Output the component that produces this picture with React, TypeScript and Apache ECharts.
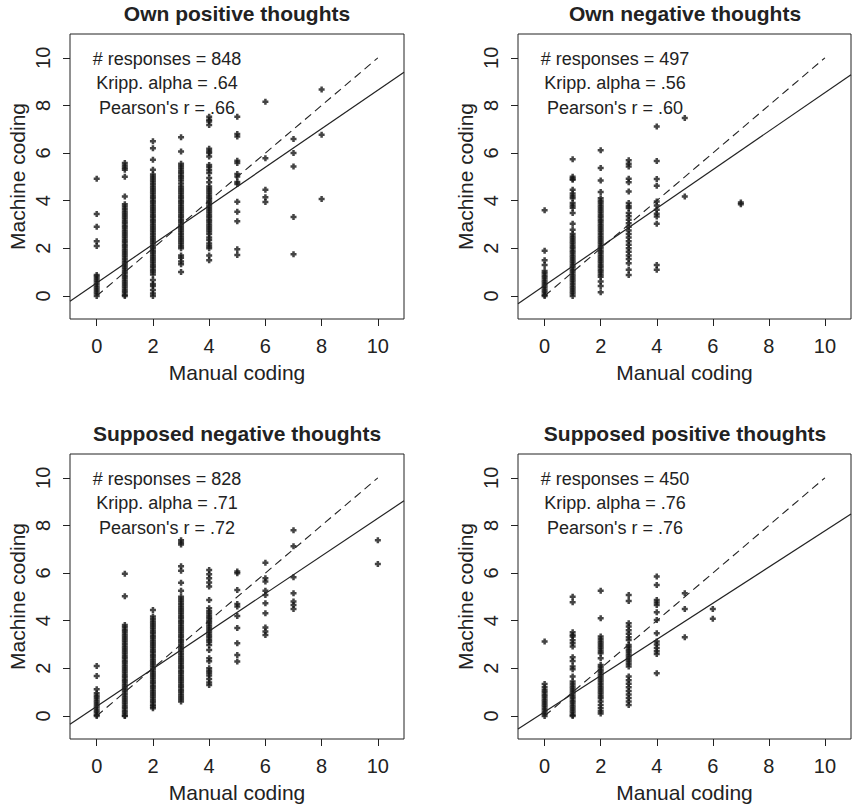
import React, { useEffect, useRef } from 'react';
import * as echarts from 'echarts';

// ---------- data ----------
const panelTitles = [
  'Own positive thoughts',
  'Own negative thoughts',
  'Supposed negative thoughts',
  'Supposed positive thoughts',
];
const responseCounts = [848, 497, 828, 450];
const krippAlphas = ['.64', '.56', '.71', '.76'];
const pearsonRs = ['.66', '.60', '.72', '.76'];
const regIntercepts = [0.545, 0.44, 0.4, 0.17];
const regSlopes = [0.81, 0.81, 0.79, 0.76];
const tickValues = [0, 2, 4, 6, 8, 10];
const identityLine = [
  [0, 0],
  [10, 10],
];
const xLabel = 'Manual coding';
const yLabel = 'Machine coding';

type Column = [number, number[]];

const ownPositive: Column[] = [
  [0, [4.92, 3.44, 2.9, 2.3, 2.1, 0.88, 0.8, 0.7, 0.6, 0.5, 0.4, 0.3, 0.2, 0.1, 0.0]],
  [1, [5.58, 5.48, 5.38, 5.3, 5.0, 4.18, 3.85, 3.75, 3.65, 3.55, 3.45, 3.35, 3.25, 3.15, 3.05, 2.95, 2.85, 2.75, 2.65, 2.55, 2.45, 2.35, 2.25, 2.15, 2.05, 1.95, 1.85, 1.75, 1.65, 1.55, 1.45, 1.35, 1.25, 1.15, 1.05, 0.95, 0.85, 0.75, 0.65, 0.55, 0.45, 0.35, 0.25, 0.15, 0.05, 0.0]],
  [2, [6.5, 6.2, 5.72, 5.3, 5.1, 5.0, 4.9, 4.8, 4.7, 4.6, 4.5, 4.4, 4.3, 4.2, 4.1, 4.0, 3.9, 3.8, 3.7, 3.6, 3.5, 3.4, 3.3, 3.2, 3.1, 3.0, 2.9, 2.8, 2.7, 2.6, 2.5, 2.4, 2.3, 2.2, 2.1, 2.0, 1.9, 1.8, 1.7, 1.6, 1.5, 1.4, 1.3, 1.2, 1.1, 1.0, 0.9, 0.67, 0.5, 0.42, 0.25, 0.1, 0.0]],
  [3, [6.66, 6.06, 5.55, 5.45, 5.35, 5.25, 5.15, 5.05, 4.95, 4.85, 4.72, 4.6, 4.5, 4.4, 4.3, 4.2, 4.1, 4.0, 3.9, 3.8, 3.7, 3.6, 3.5, 3.4, 3.3, 3.2, 3.1, 3.0, 2.9, 2.8, 2.7, 2.6, 2.5, 2.4, 2.3, 2.2, 2.1, 2.0, 1.7, 1.6, 1.45, 1.33, 1.0]],
  [4, [7.52, 7.4, 7.32, 7.18, 6.18, 6.08, 6.0, 5.86, 5.5, 5.4, 5.28, 5.16, 4.95, 4.77, 4.6, 4.5, 4.4, 4.3, 4.2, 4.1, 4.0, 3.9, 3.8, 3.7, 3.6, 3.5, 3.4, 3.3, 3.2, 3.1, 3.0, 2.9, 2.8, 2.7, 2.6, 2.45, 2.35, 2.2, 2.1, 2.0, 1.7, 1.5]],
  [5, [7.52, 6.8, 6.7, 5.68, 5.58, 5.12, 5.02, 4.78, 4.7, 3.95, 3.53, 3.14, 1.96, 1.72]],
  [6, [8.15, 5.78, 4.46, 4.14, 3.94]],
  [7, [6.59, 6.0, 5.44, 3.31, 1.75]],
  [8, [8.67, 6.77, 4.07]],
];

const ownNegative: Column[] = [
  [0, [3.6, 1.9, 1.5, 1.3, 1.05, 0.95, 0.85, 0.75, 0.65, 0.55, 0.45, 0.35, 0.25, 0.15, 0.05, 0.0]],
  [1, [5.74, 5.0, 4.92, 4.88, 4.46, 4.3, 4.2, 4.1, 3.9, 3.8, 3.7, 3.48, 3.03, 2.78, 2.6, 2.5, 2.4, 2.3, 2.2, 2.1, 2.0, 1.9, 1.8, 1.7, 1.6, 1.5, 1.4, 1.3, 1.2, 1.1, 1.0, 0.9, 0.8, 0.7, 0.6, 0.5, 0.4, 0.3, 0.2, 0.1, 0.0]],
  [2, [6.12, 5.37, 4.85, 4.36, 4.1, 4.0, 3.9, 3.8, 3.7, 3.6, 3.5, 3.4, 3.3, 3.2, 3.1, 3.0, 2.9, 2.8, 2.7, 2.6, 2.5, 2.4, 2.3, 2.2, 2.1, 2.0, 1.9, 1.8, 1.7, 1.6, 1.5, 1.4, 1.3, 1.2, 1.1, 1.0, 0.9, 0.8, 0.6, 0.42, 0.15]],
  [3, [5.7, 5.55, 5.44, 4.92, 4.77, 4.39, 3.9, 3.78, 3.69, 3.48, 3.35, 3.2, 3.05, 2.9, 2.75, 2.6, 2.45, 2.3, 2.15, 2.0, 1.85, 1.7, 1.55, 1.37, 1.1, 0.88]],
  [4, [7.12, 5.67, 4.91, 4.63, 3.97, 3.8, 3.62, 3.45, 3.34, 3.03, 1.3, 1.1]],
  [5, [7.47, 4.18]],
  [7, [3.92, 3.85]],
];

const supposedNegative: Column[] = [
  [0, [2.1, 1.68, 1.12, 0.95, 0.85, 0.75, 0.65, 0.55, 0.45, 0.35, 0.25, 0.15, 0.05, 0.0]],
  [1, [5.97, 5.03, 3.82, 3.72, 3.62, 3.52, 3.42, 3.32, 3.22, 3.12, 3.02, 2.92, 2.82, 2.72, 2.62, 2.52, 2.42, 2.32, 2.22, 2.12, 2.02, 1.92, 1.82, 1.72, 1.62, 1.52, 1.42, 1.32, 1.22, 1.12, 1.02, 0.92, 0.82, 0.72, 0.62, 0.52, 0.42, 0.32, 0.22, 0.12, 0.02, 0.0]],
  [2, [4.45, 4.17, 4.07, 3.97, 3.87, 3.77, 3.67, 3.57, 3.47, 3.37, 3.27, 3.17, 3.07, 2.97, 2.87, 2.77, 2.67, 2.57, 2.47, 2.37, 2.27, 2.17, 2.07, 1.97, 1.87, 1.77, 1.67, 1.57, 1.47, 1.37, 1.27, 1.17, 1.07, 0.97, 0.87, 0.77, 0.67, 0.57, 0.47, 0.4, 0.32]],
  [3, [7.38, 7.28, 7.2, 6.29, 6.1, 5.59, 5.26, 5.0, 4.9, 4.8, 4.7, 4.6, 4.5, 4.4, 4.3, 4.2, 4.1, 4.0, 3.9, 3.8, 3.7, 3.6, 3.5, 3.4, 3.3, 3.2, 3.1, 3.0, 2.9, 2.8, 2.7, 2.6, 2.5, 2.4, 2.3, 2.2, 2.1, 2.0, 1.9, 1.8, 1.7, 1.6, 1.5, 1.4, 1.3, 1.2, 1.1, 1.0, 0.9, 0.8, 0.7, 0.6]],
  [4, [6.13, 5.95, 5.78, 5.6, 5.43, 4.87, 4.52, 4.4, 4.3, 4.2, 4.1, 4.0, 3.9, 3.8, 3.7, 3.6, 3.5, 3.4, 3.3, 3.2, 3.1, 2.98, 2.77, 2.42, 2.3, 2.0, 1.9, 1.8, 1.7, 1.55, 1.4, 1.3]],
  [5, [6.06, 5.99, 5.29, 4.7, 4.59, 4.2, 3.69, 3.05, 2.56, 2.28]],
  [6, [6.43, 5.78, 5.64, 5.26, 5.08, 4.73, 4.31, 3.71, 3.54, 3.4]],
  [7, [7.8, 7.13, 5.82, 5.15, 4.81, 4.66, 4.49]],
  [10, [7.38, 6.38]],
];

const supposedPositive: Column[] = [
  [0, [3.13, 1.34, 1.2, 1.09, 0.99, 0.89, 0.79, 0.69, 0.59, 0.49, 0.39, 0.29, 0.19, 0.09, 0.0]],
  [1, [5.0, 4.77, 3.51, 3.4, 3.33, 3.18, 3.05, 2.91, 2.46, 2.31, 2.07, 1.96, 1.65, 1.44, 1.34, 1.24, 1.14, 1.04, 0.94, 0.84, 0.74, 0.64, 0.54, 0.44, 0.34, 0.24, 0.14, 0.04, 0.0]],
  [2, [5.26, 4.1, 3.33, 3.23, 3.13, 3.03, 2.93, 2.83, 2.73, 2.63, 2.42, 2.14, 2.04, 1.94, 1.84, 1.74, 1.64, 1.54, 1.44, 1.34, 1.24, 1.14, 1.04, 0.94, 0.84, 0.74, 0.6, 0.46, 0.32, 0.2, 0.1]],
  [3, [5.08, 4.83, 3.89, 3.75, 3.6, 3.45, 3.3, 3.19, 2.98, 2.88, 2.78, 2.68, 2.58, 2.48, 2.38, 2.28, 2.18, 2.07, 1.65, 1.5, 1.35, 1.2, 1.05, 0.9, 0.75, 0.6, 0.46]],
  [4, [5.85, 5.5, 4.87, 4.76, 4.66, 4.35, 4.03, 3.47, 3.12, 3.0, 2.85, 2.72, 2.6, 1.79]],
  [5, [5.15, 4.49, 3.3]],
  [6, [4.49, 4.08]],
];

const panelData = [ownPositive, ownNegative, supposedNegative, supposedPositive];

// ---------- layout / style ----------
const X_MIN = -0.95;
const X_MAX = 10.93;
const Y_MIN = -0.97;
const Y_MAX = 11.0;
const GRID_LEFTS = [70, 518, 70, 518];
const GRID_TOPS = [34, 34, 454, 454];
const GRID_W = 334;
const GRID_H = 285;
const FONT = '"Liberation Sans", Arial, Helvetica, sans-serif';
const INK = '#222222';
const DOT = '#151515';
const PLUS = 'path://M-1.25,-3H1.25V-1.25H3V1.25H1.25V3H-1.25V1.25H-3V-1.25H-1.25Z';

export default function App() {
  const ref = useRef<HTMLDivElement>(null);

  useEffect(() => {
    if (!ref.current) return;
    const chart = echarts.init(ref.current, undefined, { renderer: 'svg' });

    const grids: any[] = [];
    const xAxes: any[] = [];
    const yAxes: any[] = [];
    const series: any[] = [];
    const titles: any[] = [];
    const graphics: any[] = [];

    for (let i = 0; i < 4; i++) {
      const left = GRID_LEFTS[i];
      const top = GRID_TOPS[i];
      const width = i % 2 === 1 ? GRID_W - 1 : GRID_W;
      grids.push({
        left,
        top,
        width,
        height: GRID_H,
        show: true,
        borderColor: INK,
        borderWidth: 1,
        backgroundColor: 'transparent',
        containLabel: false,
      });
      xAxes.push({
        type: 'value',
        gridIndex: i,
        position: 'bottom',
        min: X_MIN,
        max: X_MAX,
        axisLine: { show: false, onZero: false },
        axisTick: {
          show: true,
          customValues: tickValues,
          length: 7,
          lineStyle: { color: INK, width: 1 },
        },
        axisLabel: {
          customValues: tickValues,
          fontSize: 20,
          margin: 17,
          color: INK,
          fontFamily: FONT,
        },
        splitLine: { show: false },
        name: xLabel,
        nameLocation: 'middle',
        nameGap: 43,
        nameTextStyle: { fontSize: 21, color: INK, fontFamily: FONT },
      });
      yAxes.push({
        type: 'value',
        gridIndex: i,
        position: 'left',
        min: Y_MIN,
        max: Y_MAX,
        axisLine: { show: false, onZero: false },
        axisTick: {
          show: true,
          customValues: tickValues,
          length: 7,
          lineStyle: { color: INK, width: 1 },
        },
        axisLabel: {
          customValues: tickValues,
          fontSize: 20,
          margin: 17,
          rotate: 90,
          color: INK,
          fontFamily: FONT,
        },
        splitLine: { show: false },
        name: yLabel,
        nameLocation: 'middle',
        nameGap: 42,
        nameTextStyle: { fontSize: 21, color: INK, fontFamily: FONT },
      });

      const pts: number[][] = [];
      panelData[i].forEach(([x, ys]) => ys.forEach((y) => pts.push([x, y])));
      series.push({
        type: 'scatter',
        xAxisIndex: i,
        yAxisIndex: i,
        data: pts,
        symbol: PLUS,
        symbolSize: 6,
        itemStyle: { color: DOT },
        silent: true,
        z: 3,
      });
      series.push({
        type: 'line',
        xAxisIndex: i,
        yAxisIndex: i,
        data: identityLine,
        showSymbol: false,
        symbol: 'none',
        lineStyle: { color: INK, width: 1.1, type: [8, 5] },
        silent: true,
        z: 4,
      });
      const a = regIntercepts[i];
      const b = regSlopes[i];
      series.push({
        type: 'line',
        xAxisIndex: i,
        yAxisIndex: i,
        data: [
          [X_MIN, a + b * X_MIN],
          [X_MAX, a + b * X_MAX],
        ],
        showSymbol: false,
        symbol: 'none',
        clip: true,
        lineStyle: { color: INK, width: 1.2, type: 'solid' },
        silent: true,
        z: 4,
      });

      titles.push({
        text: panelTitles[i],
        left: left + GRID_W / 2,
        top: top - 31,
        textAlign: 'center',
        padding: 0,
        textStyle: {
          fontSize: 21,
          fontWeight: 'bold',
          color: INK,
          fontFamily: FONT,
        },
      });

      const lines = [
        `# responses = ${responseCounts[i]}`,
        `Kripp. alpha = ${krippAlphas[i]}`,
        `Pearson's r = ${pearsonRs[i]}`,
      ];
      const offsets = [25, 48.5, 74];
      lines.forEach((t, k) => {
        graphics.push({
          type: 'text',
          x: left + 97,
          y: top + offsets[k],
          style: {
            text: t,
            fill: INK,
            font: `18px ${FONT}`,
            textAlign: 'center',
            textVerticalAlign: 'middle',
          },
          silent: true,
          z: 10,
        });
      });
    }

    chart.setOption({
      animation: false,
      backgroundColor: '#ffffff',
      title: titles,
      grid: grids,
      xAxis: xAxes,
      yAxis: yAxes,
      series,
      graphic: graphics,
    });

    return () => chart.dispose();
  }, []);

  return (
    <div
      ref={ref}
      style={{ position: 'fixed', left: 0, top: 0, width: 852, height: 806 }}
    />
  );
}
